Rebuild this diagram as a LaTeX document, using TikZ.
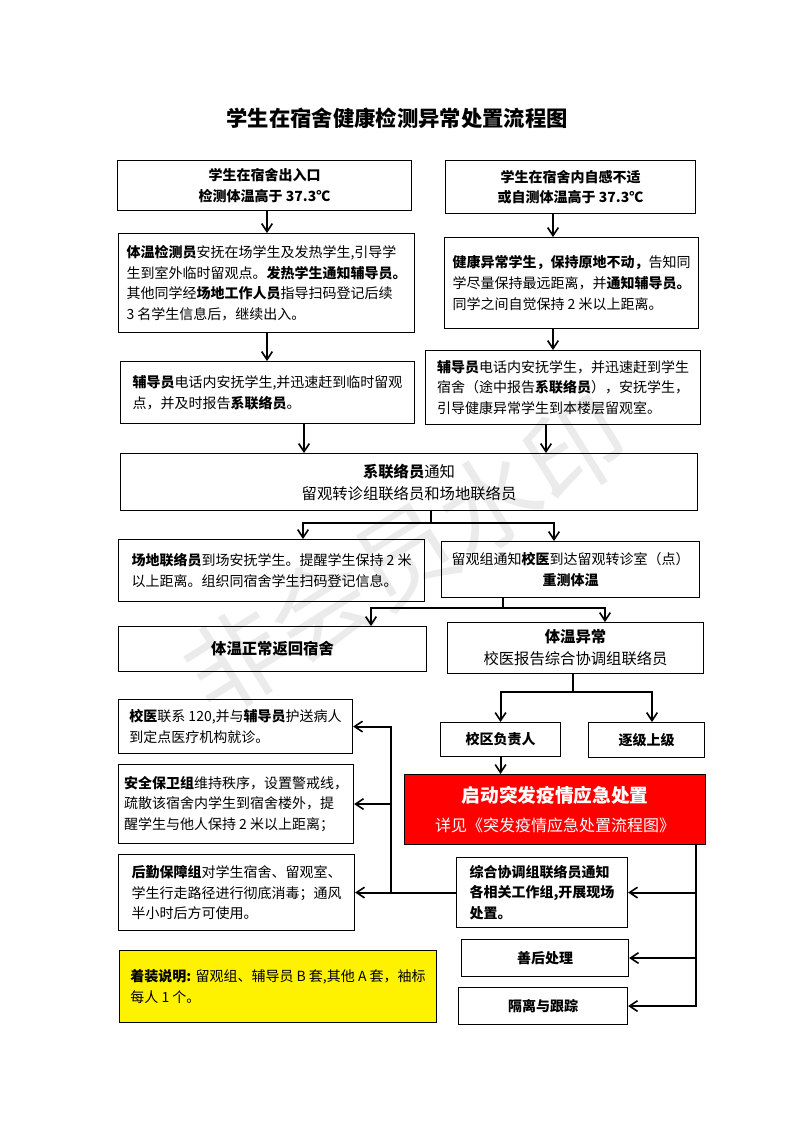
\documentclass[tikz,border=0pt]{standalone}
\usepackage{fontspec}
\setmainfont{Noto Sans CJK SC}
\usetikzlibrary{arrows.meta}
\begin{document}
\begin{tikzpicture}[x=0.75pt,y=-0.75pt,
  bx/.style={draw=black, line width=0.8pt, anchor=north west, inner sep=2pt, align=left,
    font=\fontsize{10.5}{15.5}\selectfont},
  bxb/.style={bx, align=center, font=\fontsize{10.5}{15.5}\selectfont\bfseries},
  sz/.style 2 args={minimum width=#1*0.75pt, minimum height=#2*0.75pt},
  arr/.style={line width=1.5pt, -{Straight Barb[length=6pt,width=8pt,line width=1.2pt]}},
  ln/.style={line width=1.5pt},
]
\useasboundingbox (0,0) rectangle (793,1122);

% watermark
\node[rotate=32, text=black!8, font=\fontsize{75}{75}\selectfont] (wm) at (405,555) {非会员水印};

% title
\node[font=\fontsize{16}{16}\selectfont\bfseries] (title) at (397,118) {学生在宿舍健康检测异常处置流程图};

% boxes
\node[bxb, sz={294}{50}] (a1) at (117,160) {学生在宿舍出入口\\检测体温高于 37.3℃};
\node[bxb, sz={250}{53}] (b1) at (445,160) {学生在宿舍内自感不适\\或自测体温高于 37.3℃};

\node[bx, sz={296}{99}] (a2) at (118,233) {\textbf{体温检测员}安抚在场学生及发热学生,引导学\\生到室外临时留观点。\textbf{发热学生通知辅导员。}\\其他同学经\textbf{场地工作人员}指导扫码登记后续\\3 名学生信息后，继续出入。};
\node[bx, sz={254}{91}] (b2) at (444,237) {\textbf{健康异常学生，保持原地不动，}告知同\\学尽量保持最远距离，并\textbf{通知辅导员。}\\同学之间自觉保持 2 米以上距离。};

\node[bx, sz={294}{62}] (a3) at (120,361) {\textbf{辅导员}电话内安抚学生,并迅速赶到临时留观\\点，并及时报告\textbf{系联络员}。};
\node[bx, sz={275}{74}] (b3) at (425,350) {\textbf{辅导员}电话内安抚学生，并迅速赶到学生\\宿舍（途中报告\textbf{系联络员}），安抚学生，\\引导健康异常学生到本楼层留观室。};

\node[bx, sz={577}{57}, align=center, font=\fontsize{11.5}{16.5}\selectfont] (c) at (120,453) {\textbf{系联络员}通知\\留观转诊组联络员和场地联络员};

\node[bx, sz={306}{62}] (d1) at (118,539) {\textbf{场地联络员}到场安抚学生。提醒学生保持 2 米\\以上距离。组织同宿舍学生扫码登记信息。};
\node[bx, sz={258}{56}, align=center] (d2) at (441,541) {留观组通知\textbf{校医}到达留观转诊室（点）\\\textbf{重测体温}};

\node[bxb, sz={308}{45}, font=\fontsize{11.5}{16}\selectfont\bfseries] (e1) at (118,626) {体温正常返回宿舍};
\node[bx, sz={256}{51}, align=center, font=\fontsize{11.5}{16.5}\selectfont] (e2) at (447,622) {\textbf{体温异常}\\校医报告综合协调组联络员};

\node[bxb, sz={120}{34}] (f1) at (440,722) {校区负责人};
\node[bxb, sz={116}{35}] (f2) at (588,722) {逐级上级};

\node[bx, sz={301}{70}, fill=red, text=white, align=center] (red) at (404,774)
  {{\fontsize{14}{18}\selectfont\bfseries 启动突发疫情应急处置}\\[6pt]{\fontsize{12}{14}\selectfont 详见《突发疫情应急处置流程图》}};

\node[bx, sz={171}{70}, font=\fontsize{10.5}{15.5}\selectfont\bfseries] (g1) at (456,857) {综合协调组联络员通知\\各相关工作组,开展现场\\处置。};
\node[bxb, sz={167}{37}] (g2) at (461,939) {善后处理};
\node[bxb, sz={169}{37}] (g3) at (458,987) {隔离与跟踪};

\node[bx, sz={234}{54}] (h1) at (118,699) {\textbf{校医}联系 120,并与\textbf{辅导员}护送病人\\到定点医疗机构就诊。};
\node[bx, sz={235}{79}] (h2) at (118,764) {\textbf{安全保卫组}维持秩序，设置警戒线，\\疏散该宿舍内学生到宿舍楼外，提\\醒学生与他人保持 2 米以上距离；};
\node[bx, sz={236}{76}] (h3) at (118,854) {\textbf{后勤保障组}对学生宿舍、留观室、\\学生行走路径进行彻底消毒；通风\\半小时后方可使用。};

\node[bx, sz={317}{72}, fill=yellow] (yel) at (119,950) {\textbf{着装说明:} 留观组、辅导员 B 套,其他 A 套，袖标\\每人 1 个。};

% column coordinates
\coordinate (xa) at (267,0);
\coordinate (xb) at (553,0);
\coordinate (xc1) at (304,0);
\coordinate (xc2) at (546,0);
\coordinate (cs) at (431,523);
\coordinate (xd1) at (303,0);
\coordinate (xd2) at (554,0);
\coordinate (ds) at (503,608);
\coordinate (xe1) at (371,0);
\coordinate (xe2) at (605,0);
\coordinate (es) at (573,692);
\coordinate (xf2) at (652,0);
\coordinate (xr) at (696,0);
\coordinate (xl) at (391,0);

% connectors
\draw[arr] (a1.south -| xa) -- (a2.north -| xa);
\draw[arr] (b1.south -| xb) -- (b2.north -| xb);
\draw[arr] (a2.south -| xa) -- (a3.north -| xa);
\draw[arr] (b2.south -| xb) -- (b3.north -| xb);
\draw[arr] (a3.south -| xc1) -- (c.north -| xc1);
\draw[arr] (b3.south -| xc2) -- (c.north -| xc2);

\draw[ln] (c.south -| cs) -- (cs);
\draw[arr] (cs) -| (xd1 |- d1.north);
\draw[arr] (cs) -| (xd2 |- d2.north);

\draw[ln] (d2.south -| ds) -- (ds);
\draw[arr] (ds) -| (xe1 |- e1.north);
\draw[arr] (ds) -| (xe2 |- e2.north);

\draw[ln] (e2.south -| es) -- (es);
\draw[arr] (es) -| (f1.north);
\draw[arr] (es) -| (xf2 |- f2.north);

\draw[arr] (f1.south) -- (f1.south |- red.north);

\draw[arr] (red.south -| xr) |- (g3.east);
\draw[arr] (xr |- g1.east) -- (g1.east);
\draw[arr] (xr |- g2.east) -- (g2.east);

\draw[arr] (g1.west) -- (h3.east);
\draw[arr] (xl |- g1.west) |- (h1.east);
\draw[arr] (xl |- h2.east) -- (h2.east);
\end{tikzpicture}
\end{document}
